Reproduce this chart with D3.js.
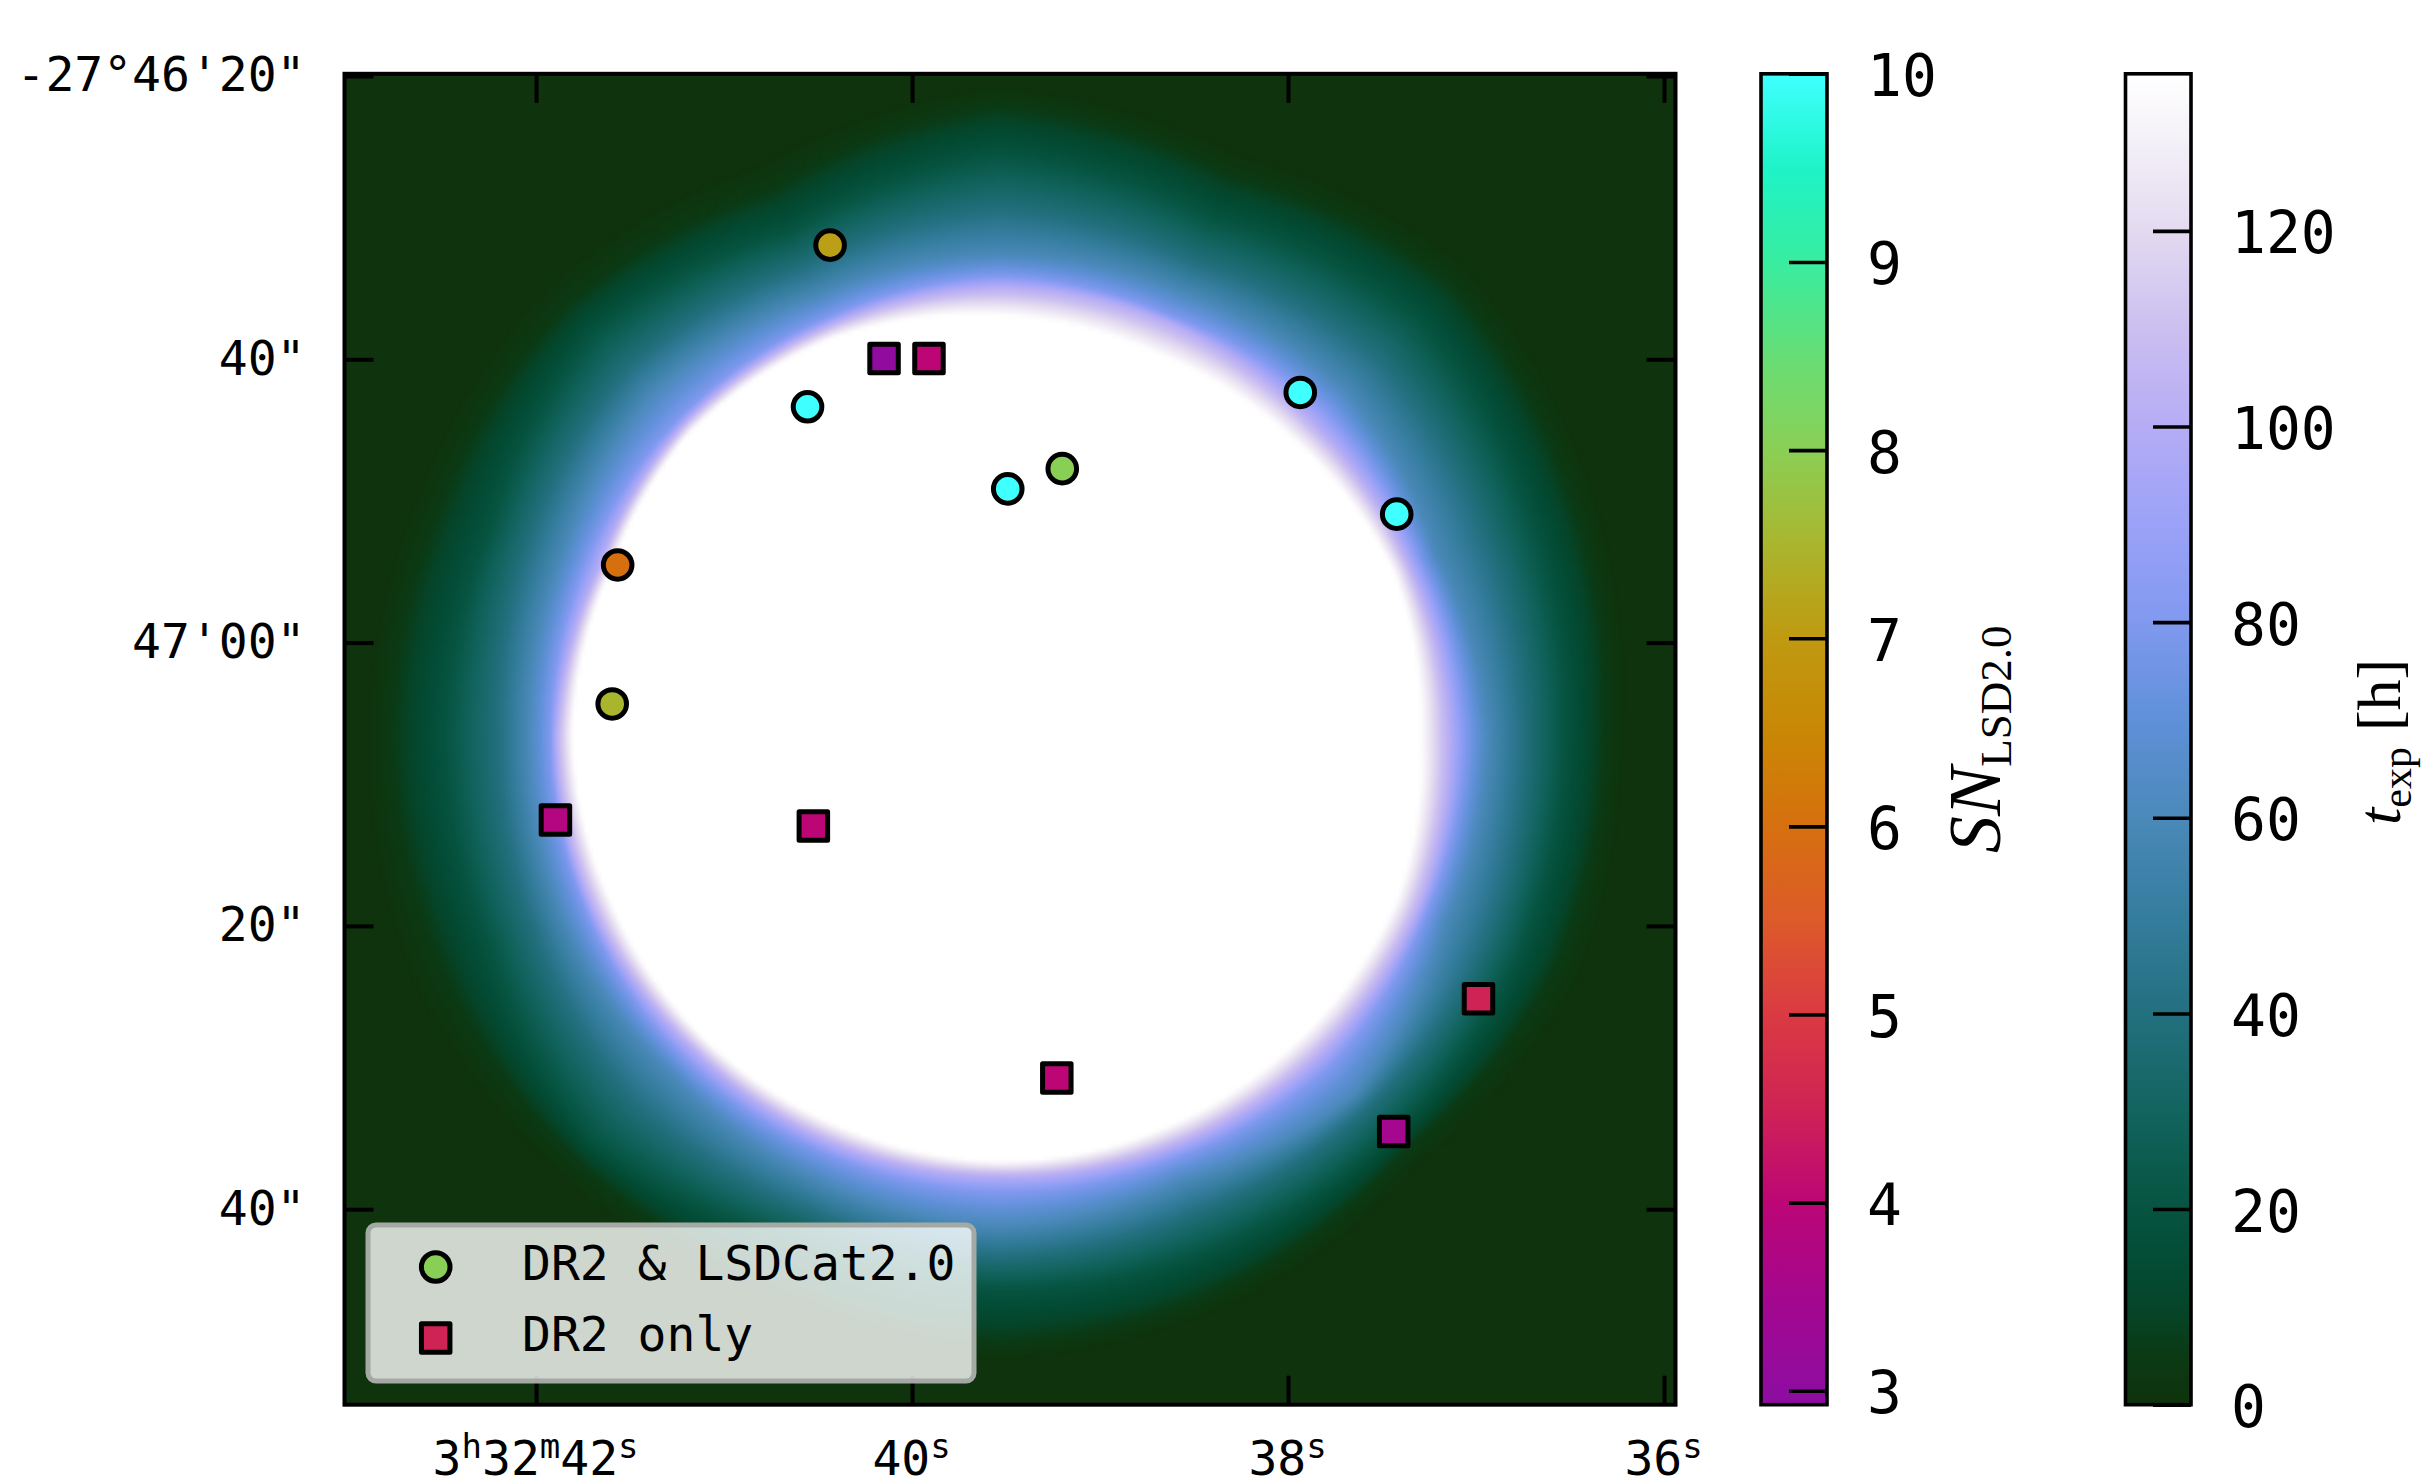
<!DOCTYPE html>
<html>
<head>
<meta charset="utf-8">
<script src="https://cdn.jsdelivr.net/npm/d3@7"></script>
<style>
  body { margin: 0; background: #fff; }
  svg { display: block; }
  text { font-family: "DejaVu Sans Mono", monospace; fill: #000; }
  .math { font-family: "Liberation Serif", serif; }
</style>
</head>
<body>
<div id="chart"></div>
<script>
// Sources found in both catalogues (RA seconds after 3h32m, Dec arcsec after -27 46')
const circleRa = [40.436, 40.556, 39.491, 39.201, 37.935, 37.422, 41.566, 41.595];
const circleDec = [31.94, 43.35, 49.15, 47.72, 42.34, 50.93, 54.52, 64.33];
const circleSn = [7.1, 10, 10, 8.0, 10, 10, 6.0, 7.5];

// Sources only in DR2
const squareRa = [40.149, 39.910, 41.897, 40.525, 36.987, 39.230, 37.438];
const squareDec = [39.94, 39.94, 72.52, 72.95, 85.14, 90.74, 94.52];
const squareSn = [3.05, 4.0, 3.8, 4.0, 4.5, 4.0, 3.5];

const raTicks = [42, 40, 38, 36];
const raTickLabels = [["3", "h", "32", "m", "42", "s"], ["40", "s"], ["38", "s"], ["36", "s"]];
const decTicks = [20, 40, 60, 80, 100];
const decTickLabels = ["-27°46'20\"", "40\"", "47'00\"", "20\"", "40\""];
const snTicks = [3, 4, 5, 6, 7, 8, 9, 10];
const expTicks = [0, 20, 40, 60, 80, 100, 120];

// Colour maps
const snStops = [3, 3.5, 4, 4.5, 5, 5.5, 6, 6.5, 7, 7.5, 8, 8.5, 9, 9.5, 10];
const snColors = ["#8f0ca0", "#a5078f", "#bc0676", "#cf2355", "#da3a42", "#dd5a2a", "#d6700f", "#c98705",
  "#bf9a10", "#aab52e", "#8acf55", "#67de76", "#38eda0", "#1ef4c8", "#40ffff"];
const expStops = [0, 5, 10, 15, 20, 30, 40, 50, 60, 70, 80, 90, 100, 110, 120, 130, 136];
const expColors = ["#0f330c", "#0b3a14", "#05452a", "#034c36", "#065440", "#12645f", "#23707f", "#357d9e",
  "#4a89b9", "#5f90d8", "#8099ef", "#9ba2f7", "#b5acf5", "#cbbff0", "#e3daf0", "#f5f2f8", "#ffffff"];

// Exposure map: distance (arcsec) from the field centre at which the exposure
// falls to each level, read along rays every 22.5 degrees (0 = right, 90 = up)
const rayAngles = [0, 22.5, 45, 67.5, 90, 112.5, 135, 157.5, 180, 202.5, 225, 247.5, 270, 292.5, 315, 337.5];
const fieldCenterRa = 39.543;
const fieldCenterDec = 66.59;
const expLevels = [136, 100, 80, 60, 40, 20, 5, 0];
const edge136 = [29.8, 30.2, 29.5, 29.2, 29.7, 30.4, 30.5, 29.7, 30.0, 29.7, 29.7, 29.7, 30.0, 30.0, 30.1, 30.4];
const edge100 = [31.9, 31.5, 31.4, 31.6, 31.7, 31.4, 31.3, 30.6, 31.2, 31.1, 30.9, 31.1, 31.1, 31.5, 32.0, 32.1];
const edge80 = [33.0, 32.3, 32.7, 32.1, 32.5, 31.9, 31.8, 31.6, 31.6, 31.6, 31.8, 31.9, 32.2, 32.3, 33.1, 32.7];
const edge60 = [34.6, 33.5, 34.6, 33.9, 34.0, 33.6, 34.4, 33.3, 33.1, 33.3, 33.2, 33.8, 34.6, 34.0, 35.7, 34.2];
const edge40 = [37.1, 37.0, 37.8, 36.2, 37.1, 35.8, 36.8, 35.8, 35.2, 35.5, 36.4, 36.0, 36.7, 36.3, 37.0, 37.2];
const edge20 = [40.0, 40.6, 41.8, 39.6, 41.1, 38.6, 40.4, 38.8, 39.0, 38.9, 40.4, 38.5, 39.1, 39.3, 39.5, 39.9];
const edge5 = [42.8, 43.8, 45.2, 42.8, 44.5, 41.7, 43.0, 42.6, 42.8, 42.5, 42.2, 41.7, 42.8, 42.0, 41.0, 42.6];
const edge0 = [44.1, 45.5, 46.9, 44.5, 45.9, 43.8, 45.2, 44.5, 44.6, 45.0, 43.8, 43.4, 44.0, 43.4, 42.5, 44.5];
const edges = [edge136, edge100, edge80, edge60, edge40, edge20, edge5, edge0];

const width = 2423, height = 1476;
const plot = { left: 344.5, right: 1675.5, top: 73.8, bottom: 1404.7 };
const snBar = { left: 1761, right: 1827 };
const expBar = { left: 2125.5, right: 2191 };
const arcsecPerSecond = 13.27;
const cellSize = 4;

const x = d3.scaleLinear().domain([43.019, 35.939]).range([plot.left, plot.right]);
const y = d3.scaleLinear().domain([19.845, 113.80]).range([plot.top, plot.bottom]);
const snY = d3.scaleLinear().domain([2.926, 10]).range([plot.bottom, plot.top]);
const expY = d3.scaleLinear().domain([0, 136.06]).range([plot.bottom, plot.top]);
const snColor = d3.scaleLinear().domain(snStops).range(snColors).clamp(true);
const expColor = d3.scaleLinear().domain(expStops).range(expColors).clamp(true);

const svg = d3.select("#chart").append("svg")
  .attr("width", width)
  .attr("height", height);

// Radii of every level along one direction, blended between the two nearest rays
function radiiAt(angle) {
  const pos = ((angle % 360) + 360) % 360 / 22.5;
  const i = Math.floor(pos) % rayAngles.length;
  const j = (i + 1) % rayAngles.length;
  const t = pos - Math.floor(pos);
  return edges.map((e) => e[i] * (1 - t) + e[j] * t);
}

function exposureAt(ra, dec) {
  const dx = (fieldCenterRa - ra) * arcsecPerSecond;
  const dy = fieldCenterDec - dec;
  const radius = Math.hypot(dx, dy);
  const angle = Math.atan2(dy, dx) * 180 / Math.PI;
  return d3.scaleLinear().domain(radiiAt(angle)).range(expLevels).clamp(true)(radius);
}

// Paint the exposure map cell by cell into a canvas and use it as an image
const nx = Math.round((plot.right - plot.left) / cellSize);
const ny = Math.round((plot.bottom - plot.top) / cellSize);
const canvas = document.createElement("canvas");
canvas.width = nx;
canvas.height = ny;
const ctx = canvas.getContext("2d");
for (let j = 0; j < ny; j++) {
  for (let i = 0; i < nx; i++) {
    const ra = x.invert(plot.left + (i + 0.5) * (plot.right - plot.left) / nx);
    const dec = y.invert(plot.top + (j + 0.5) * (plot.bottom - plot.top) / ny);
    ctx.fillStyle = expColor(exposureAt(ra, dec));
    ctx.fillRect(i, j, 1, 1);
  }
}
svg.append("image")
  .attr("x", plot.left)
  .attr("y", plot.top)
  .attr("width", plot.right - plot.left)
  .attr("height", plot.bottom - plot.top)
  .attr("preserveAspectRatio", "none")
  .attr("href", canvas.toDataURL());

// Axes on all four sides, ticks pointing in
const tickLength = 29;
function styleTicks(g) {
  g.select(".domain").remove();
  g.selectAll("line").attr("stroke", "#000").attr("stroke-width", 4);
}

const bottomAxis = svg.append("g")
  .attr("transform", `translate(0,${plot.bottom})`)
  .call(d3.axisBottom(x).tickValues(raTicks).tickSize(-tickLength).tickPadding(0).tickFormat(""))
  .call(styleTicks);

bottomAxis.selectAll(".tick text")
  .attr("y", 0)
  .attr("dy", 0)
  .attr("font-size", 48)
  .attr("transform", `translate(-1,${height - plot.bottom - 1})`)
  .each(function (d, i) {
    const label = d3.select(this);
    raTickLabels[i].forEach((part, k) => {
      const isSuper = k % 2 === 1;
      label.append("tspan")
        .text(part)
        .attr("font-size", isSuper ? 34 : 48)
        .attr("dy", k === 0 ? 0 : (isSuper ? -17 : 17));
    });
  });

svg.append("g")
  .attr("transform", `translate(0,${plot.top})`)
  .call(d3.axisTop(x).tickValues(raTicks).tickSize(-tickLength).tickFormat(""))
  .call(styleTicks);

svg.append("g")
  .attr("transform", `translate(${plot.left},0)`)
  .call(d3.axisLeft(y).tickValues(decTicks).tickSize(-tickLength).tickPadding(39)
    .tickFormat((d, i) => decTickLabels[i]))
  .call(styleTicks)
  .call((g) => g.selectAll("text").attr("font-size", 48).attr("dy", 15).attr("font-family", "DejaVu Sans Mono"));

svg.append("g")
  .attr("transform", `translate(${plot.right},0)`)
  .call(d3.axisRight(y).tickValues(decTicks).tickSize(-tickLength).tickFormat(""))
  .call(styleTicks);

svg.append("rect")
  .attr("x", plot.left)
  .attr("y", plot.top)
  .attr("width", plot.right - plot.left)
  .attr("height", plot.bottom - plot.top)
  .attr("fill", "none")
  .attr("stroke", "#000")
  .attr("stroke-width", 4);

// Source markers
function drawMarkers(type, size, ra, dec, sn) {
  svg.append("g").selectAll("path")
    .data(ra)
    .join("path")
    .attr("d", d3.symbol().type(type).size(size))
    .attr("transform", (d, i) => `translate(${x(d)},${y(dec[i])})`)
    .attr("fill", (d, i) => snColor(sn[i]))
    .attr("stroke", "#000")
    .attr("stroke-width", 5)
    .attr("stroke-linejoin", "round");
}
const circleArea = Math.PI * 14.3 * 14.3;
const squareArea = 28.5 * 28.5;
drawMarkers(d3.symbolCircle, circleArea, circleRa, circleDec, circleSn);
drawMarkers(d3.symbolSquare, squareArea, squareRa, squareDec, squareSn);

// Legend
const legend = svg.append("g");
legend.append("rect")
  .attr("x", 368)
  .attr("y", 1225)
  .attr("width", 606)
  .attr("height", 156)
  .attr("rx", 8)
  .attr("fill", "#fff")
  .attr("fill-opacity", 0.8)
  .attr("stroke", "#a5a9a4")
  .attr("stroke-width", 5);

const legendRows = [
  { type: d3.symbolCircle, size: circleArea, color: snColor(8), text: "DR2 & LSDCat2.0", cy: 1267, base: 1280 },
  { type: d3.symbolSquare, size: squareArea, color: snColor(4.5), text: "DR2 only", cy: 1338, base: 1351 }
];
legendRows.forEach((row) => {
  legend.append("path")
    .attr("d", d3.symbol().type(row.type).size(row.size))
    .attr("transform", `translate(435.7,${row.cy})`)
    .attr("fill", row.color)
    .attr("stroke", "#000")
    .attr("stroke-width", 5)
    .attr("stroke-linejoin", "round");
  legend.append("text")
    .attr("x", 522)
    .attr("y", row.base)
    .attr("font-size", 48)
    .text(row.text);
});

// Colour bars
function drawColorBar(id, bar, scale, color, stops, ticks) {
  const gradient = svg.append("defs").append("linearGradient")
    .attr("id", id)
    .attr("gradientUnits", "userSpaceOnUse")
    .attr("x1", 0).attr("x2", 0)
    .attr("y1", plot.bottom).attr("y2", plot.top);
  stops.forEach((s) => {
    gradient.append("stop")
      .attr("offset", (plot.bottom - scale(s)) / (plot.bottom - plot.top))
      .attr("stop-color", color(s));
  });
  svg.append("rect")
    .attr("x", bar.left)
    .attr("y", plot.top)
    .attr("width", bar.right - bar.left)
    .attr("height", plot.bottom - plot.top)
    .attr("fill", `url(#${id})`)
    .attr("stroke", "#000")
    .attr("stroke-width", 3.6);
  svg.append("g")
    .attr("transform", `translate(${bar.right},0)`)
    .call(d3.axisRight(scale).tickValues(ticks).tickSize(-38).tickPadding(40).tickFormat(d3.format("d")))
    .call((g) => g.select(".domain").remove())
    .call((g) => g.selectAll("line").attr("stroke", "#000").attr("stroke-width", 3.6))
    .call((g) => g.selectAll("text").attr("font-size", 58).attr("dy", 22).attr("font-family", "DejaVu Sans Mono"));
}
drawColorBar("sn-gradient", snBar, snY, snColor, snStops, snTicks);
drawColorBar("exp-gradient", expBar, expY, expColor, expStops, expTicks);

// Colour bar labels, written like the mathtext of the original
const snLabel = svg.append("text")
  .attr("class", "math")
  .attr("transform", "translate(2000,853) rotate(-90)")
  .attr("font-size", 74);
snLabel.append("tspan").attr("font-style", "italic").text("SN");
snLabel.append("tspan").attr("font-size", 45).attr("dy", 11).text("LSD2.0");

const expLabel = svg.append("text")
  .attr("class", "math")
  .attr("transform", "translate(2400,825) rotate(-90)")
  .attr("font-size", 62);
expLabel.append("tspan").attr("font-style", "italic").text("t");
expLabel.append("tspan").attr("font-size", 42).attr("dy", 11).text("exp");
expLabel.append("tspan").attr("dy", -11).attr("dx", 16).text("[h]");
</script>
</body>
</html>
